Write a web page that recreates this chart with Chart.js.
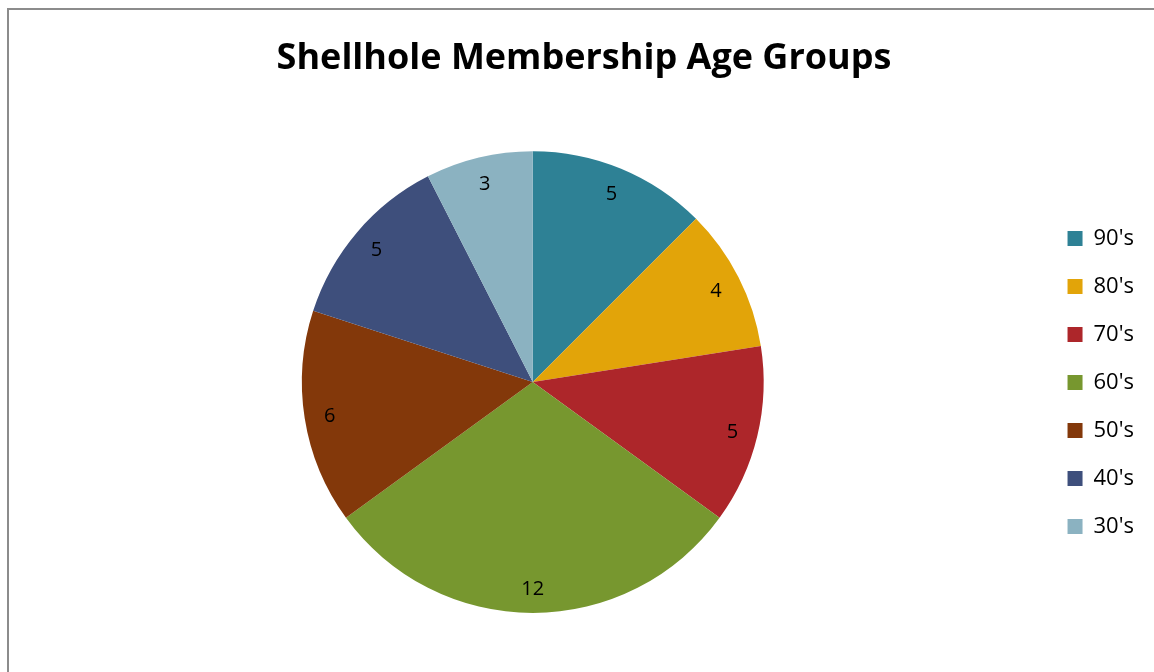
<!DOCTYPE html>
<html>
<head>
<meta charset="utf-8">
<script src="https://cdn.jsdelivr.net/npm/chart.js@4.4.0/dist/chart.umd.min.js"></script>
<style>
    html, body { margin: 0; padding: 0; background: #fff; overflow: hidden; }
    #frame { position: absolute; left: 7px; top: 8px; width: 1200px; height: 720px; border: 2px solid #8c8c8c; }
    #wrap { position: absolute; left: 0; top: 0; width: 1154px; height: 672px; }
</style>
</head>
<body>
<div id="frame"></div>
<div id="wrap"><canvas id="myChart" width="1154" height="672"></canvas></div>
<script>
const chartTitle = "Shellhole Membership Age Groups";
const ageGroups = ["90's", "80's", "70's", "60's", "50's", "40's", "30's"];
const members = [5, 4, 5, 12, 6, 5, 3];
const sliceColors = ['#2e8195', '#e2a409', '#ad262a', '#77972f', '#83380a', '#3e4f7c', '#8bb2c1'];

// puts the value inside each slice, near the rim
const sliceLabels = {
    id: 'sliceLabels',
    afterDatasetsDraw(chart) {
        const ctx = chart.ctx;
        const meta = chart.getDatasetMeta(0);
        ctx.save();
        ctx.font = '20px "Open Sans"';
        ctx.fillStyle = '#000';
        ctx.textAlign = 'center';
        ctx.textBaseline = 'middle';
        meta.data.forEach((arc, i) => {
            const mid = (arc.startAngle + arc.endAngle) / 2;
            const r = arc.outerRadius * 0.89;
            ctx.fillText(String(members[i]), arc.x + Math.cos(mid) * r, arc.y + Math.sin(mid) * r + 2);
        });
        ctx.restore();
    }
};

// nudge the legend box so its items sit level with the pie centre
const legendNudge = {
    id: 'legendNudge',
    afterLayout(chart) {
        const lg = chart.legend;
        lg.top += 51;
        lg.bottom += 51;
        lg.left -= 4;
        lg.right -= 4;
    }
};

const ctx = document.getElementById('myChart').getContext('2d');
const chart = new Chart(ctx, {
    type: 'pie',
    data: {
        labels: ageGroups,
        datasets: [{
            data: members,
            backgroundColor: sliceColors,
            borderWidth: 0
        }]
    },
    options: {
        responsive: false,
        animation: false,
        layout: { padding: { left: 20, right: 6, bottom: 59 } },
        plugins: {
            title: {
                display: true,
                text: chartTitle,
                color: '#000',
                font: { family: '"Open Sans"', size: 36, weight: 'bold', lineHeight: 1.2 },
                padding: { top: 37, bottom: 71 }
            },
            legend: {
                position: 'right',
                title: { display: true, text: ' ', font: { size: 1, lineHeight: 1.2 }, padding: { top: 49, bottom: 0 } },
                labels: {
                    color: '#000',
                    boxWidth: 15,
                    boxHeight: 15,
                    padding: 26,
                    font: { family: '"Open Sans"', size: 22, lineHeight: 1.2 }
                }
            },
            tooltip: { enabled: false }
        }
    },
    plugins: [sliceLabels, legendNudge]
});
</script>
</body>
</html>
